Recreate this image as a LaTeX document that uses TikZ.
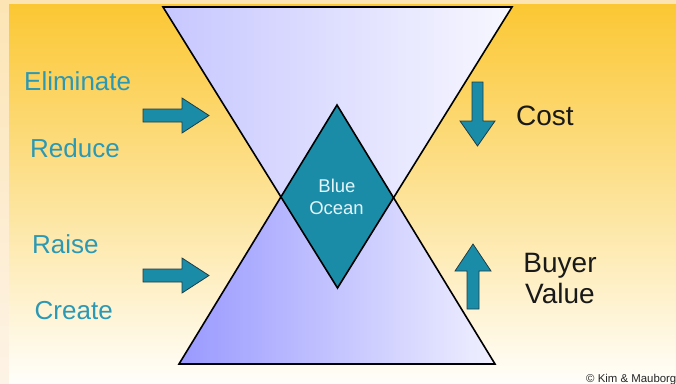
\documentclass[tikz,border=0pt]{standalone}
\usepackage{fontspec}
\setmainfont{Liberation Sans}
\begin{document}
\begin{tikzpicture}[x=1pt,y=-1pt]
\definecolor{bgouttop}{HTML}{FCE4B4}
\definecolor{bgoutbot}{HTML}{FDF3E6}
\definecolor{bgtop}{HTML}{FBC733}
\definecolor{bgmid}{HTML}{FDE7BE}
\definecolor{bgbot}{HTML}{FFFEFA}
\definecolor{tealfill}{HTML}{1A8CA8}
\definecolor{tealtext}{HTML}{2B98B4}
\definecolor{arrowline}{HTML}{1F3D45}
\definecolor{oceantext}{HTML}{E4F5FA}
\tikzset{
  blockarrow/.style={fill=tealfill, draw=arrowline, line width=0.8pt, line join=miter},
  trioutline/.style={draw=black, line width=1.6pt, line join=miter},
  lefttext/.style={anchor=base west, inner sep=0pt, text=tealtext, font=\fontsize{26}{30}\selectfont},
  righttext/.style={inner sep=0pt, text=black!90, font=\fontsize{28}{32}\selectfont},
  oceanstyle/.style={anchor=base, inner sep=0pt, text=oceantext, font=\fontsize{18.5}{22}\selectfont}
}
\useasboundingbox (0,0) rectangle (676,383);
\clip (0,0) rectangle (676,383);
% background
\shade[top color=bgouttop, bottom color=bgoutbot] (0,0) rectangle (676,383);
\shade[top color=bgtop, middle color=bgmid, bottom color=bgbot] (9,4) rectangle (676,383);
% triangle corners
\coordinate (TL) at (163,7);
\coordinate (TR) at (512,7);
\coordinate (TA) at (337.5,288);
\coordinate (BL) at (179,364);
\coordinate (BR) at (495,364);
\coordinate (BA) at (337,105);
\coordinate (DL) at (intersection of TL--TA and BL--BA);
\coordinate (DR) at (intersection of TR--TA and BR--BA);
% triangle fills
\path[left color=blue!22!white, right color=blue!3!white] (TL) -- (TR) -- (TA) -- cycle;
\path[left color=blue!40!white, right color=blue!6!white] (BL) -- (BR) -- (BA) -- cycle;
% diamond
\path[fill=tealfill] (BA) -- (DR) -- (TA) -- (DL) -- cycle;
% outlines
\path[trioutline] (TL) -- (TR) -- (TA) -- cycle;
\path[trioutline] (BL) -- (BR) -- (BA) -- cycle;
% block arrows
\path[blockarrow] (143,109) -- (182,109) -- (182,98) -- (209,115.5) -- (182,133) -- (182,122) -- (143,122) -- cycle;
\path[blockarrow] (143,269) -- (182,269) -- (182,258) -- (209,275.5) -- (182,293) -- (182,282) -- (143,282) -- cycle;
\path[blockarrow] (472,82) -- (483,82) -- (483,121) -- (495,121) -- (477.5,146) -- (460,121) -- (472,121) -- cycle;
\path[blockarrow] (467,309) -- (479,309) -- (479,271) -- (491,271) -- (473,244) -- (455,271) -- (467,271) -- cycle;
% texts
\node[lefttext] (elim) at (24,90) {Eliminate};
\node[lefttext] (reduce) at (30,157) {Reduce};
\node[lefttext] (raise) at (32,253) {Raise};
\node[lefttext] (create) at (34.5,319) {Create};
\node[righttext, anchor=base west] (cost) at (516,125) {Cost};
\node[righttext, anchor=base] (buyer) at (560,272) {Buyer};
\node[righttext, anchor=base] (value) at (560,303) {Value};
\node[oceanstyle] (blue) at (337,192) {Blue};
\node[oceanstyle] (ocean) at (336.5,214) {Ocean};
\node[anchor=base west, inner sep=0pt, text=black!85, font=\fontsize{11.4}{13}\selectfont] (copy) at (586,382) {© Kim \& Mauborg};
\end{tikzpicture}
\end{document}
